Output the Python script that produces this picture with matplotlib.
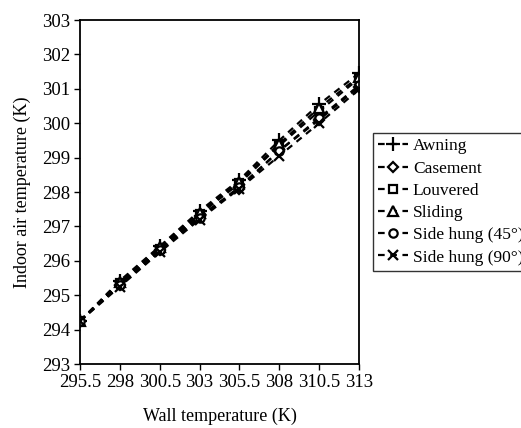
import matplotlib
matplotlib.use("Agg")
import matplotlib.pyplot as plt

wall_temp = [295.5, 298, 300.5, 303, 305.5, 308, 310.5, 313]
x_ticks = [295.5, 298, 300.5, 303, 305.5, 308, 310.5, 313]
x_tick_labels = ["295.5", "298", "300.5", "303", "305.5", "308", "310.5", "313"]

awning = [294.25, 295.42, 296.42, 297.45, 298.35, 299.5, 300.55, 301.45]
casement = [294.25, 295.30, 296.30, 297.30, 298.10, 299.20, 300.10, 301.05]
louvered = [294.25, 295.35, 296.35, 297.35, 298.25, 299.35, 300.35, 301.30]
sliding = [294.25, 295.38, 296.40, 297.40, 298.30, 299.40, 300.45, 301.35]
side45 = [294.25, 295.30, 296.30, 297.25, 298.15, 299.20, 300.15, 301.10]
side90 = [294.25, 295.25, 296.25, 297.20, 298.10, 299.05, 300.00, 300.98]

names = ["Awning", "Casement", "Louvered", "Sliding", "Side hung (45°)", "Side hung (90°)"]
series = [awning, casement, louvered, sliding, side45, side90]
markers = ["+", "D", "s", "^", "o", "x"]
msizes = [10, 5.5, 6, 6.5, 6, 7.5]

plt.rcParams['font.family'] = ['Liberation Serif', 'DejaVu Serif']

fig = plt.figure(figsize=(5.21, 4.28), dpi=100)
ax = fig.add_axes([80/521, 1 - 364/428, (359-80)/521, (364-20)/428])

for name, ys, m, ms in zip(names, series, markers, msizes):
    face = 'white' if m in ("D", "s", "^", "o") else 'black'
    ax.plot(wall_temp, ys, linestyle=(0, (3, 2.5)), color='black', linewidth=1.6,
            marker=m, markersize=ms, markerfacecolor=face, markeredgecolor='black',
            markeredgewidth=1.6, label=name)

ax.set_xlim(295.5, 313)
ax.set_ylim(293, 303)
ax.set_xticks(x_ticks)
ax.set_xticklabels(x_tick_labels)
ax.set_yticks(range(293, 304))
ax.tick_params(axis='both', labelsize=13.5, length=4, width=1, direction='out', pad=3)
for s in ax.spines.values():
    s.set_linewidth(1.3)

ax.set_xlabel("Wall temperature (K)", fontsize=13, labelpad=12)
ax.set_ylabel("Indoor air temperature (K)", fontsize=13, labelpad=8)

leg = fig.legend(loc='upper left', bbox_to_anchor=(373/521, 1 - 133/428),
                 fontsize=12.5, frameon=True, fancybox=False, edgecolor='black',
                 handlelength=1.7, handletextpad=0.3, labelspacing=0.35,
                 borderpad=0.3, borderaxespad=0)
leg.get_frame().set_linewidth(1.0)

fig.savefig("out.png", dpi=100)
